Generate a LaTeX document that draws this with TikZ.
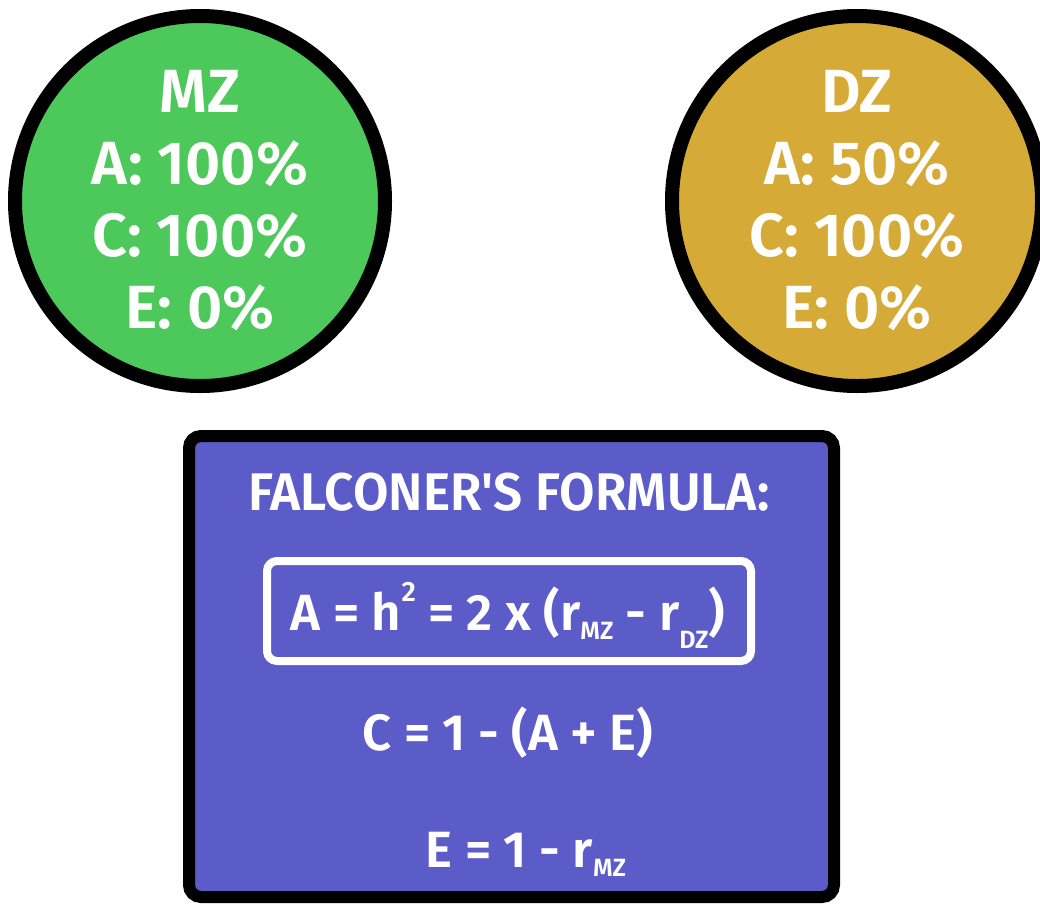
\documentclass[tikz,border=0pt]{standalone}
\usepackage{fontspec}
\setmainfont{Fira Sans}[BoldFont={Fira Sans SemiBold}]
\definecolor{mzgreen}{HTML}{4DC95B}
\definecolor{dzgold}{HTML}{D5AA36}
\definecolor{fblue}{HTML}{5B5CC8}
\newcommand{\subtxt}[1]{\raisebox{-0.35ex}{\fontsize{25}{25}\selectfont #1}}
\newcommand{\subtxtlow}[1]{\raisebox{-0.7ex}{\fontsize{25}{25}\selectfont #1}}
\newcommand{\suptxt}[1]{\raisebox{1.05ex}{\fontsize{28}{28}\selectfont #1}}
\begin{document}
\begin{tikzpicture}[x=1pt,y=-1pt,
  zyg/.style={circle, draw=black, line width=14pt, minimum size=370pt, inner sep=0pt},
  zygtext/.style={text=white, align=center, font=\fontsize{61}{72}\selectfont\bfseries},
  ftext/.style={text=white, anchor=base, font=\fontsize{51}{60}\selectfont\bfseries}]
\useasboundingbox (0,0) rectangle (1040,903);
\clip (0,0) rectangle (1040,903);
\node[zyg, fill=mzgreen] (mz) at (200,201) {};
\node[zygtext] (mzt) at (mz.center) {MZ\\A: 100\%\\C: 100\%\\E: 0\%};
\node[zyg, fill=dzgold] (dz) at (857,201) {};
\node[zygtext] (dzt) at (dz.center) {DZ\\A: 50\%\\C: 100\%\\E: 0\%};
\node[draw=black, fill=fblue, line width=12pt, rounded corners=12pt, minimum width=645pt, minimum height=461pt, inner sep=0pt] (box) at (511.5,666.5) {};
\node[draw=white, line width=8pt, rounded corners=10pt, minimum width=484pt, minimum height=100pt, inner sep=0pt] (fbox) at (509,611) {};
\node[ftext, font=\fontsize{53}{60}\selectfont\bfseries] (title) at (509,510) {\scalebox{0.97}[1]{FALCONER\textquotesingle S FORMULA:}};
\node[ftext] (fa) at (508,630) {A = h\suptxt{2} = 2 x (r\subtxt{MZ} - r\subtxtlow{DZ})};
\node[ftext] (fc) at (508,750) {C = 1 - (A + E)};
\node[ftext] (fe) at (526,867) {E = 1 - r\subtxt{MZ}};
\end{tikzpicture}
\end{document}
